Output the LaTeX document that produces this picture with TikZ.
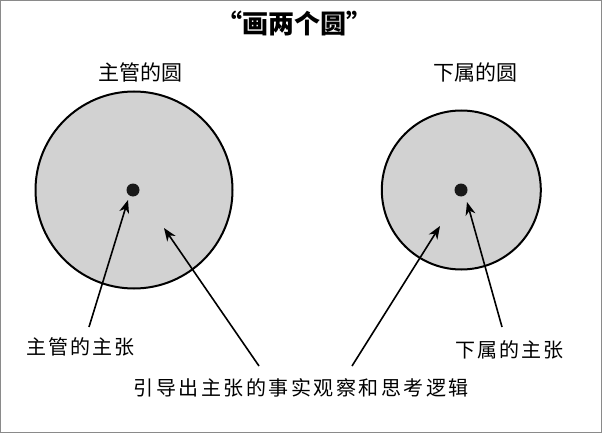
\documentclass[tikz,border=0pt]{standalone}
\usepackage{fontspec}
\newfontfamily\cjk{Noto Sans CJK SC}
\usetikzlibrary{arrows.meta}
\tikzset{
  bigcircle/.style={draw=black, line width=2pt, fill=circgray},
  dotnode/.style={circle, fill=black!90, inner sep=0pt, minimum size=13pt},
  arr/.style={line width=1.6pt, -{Stealth[length=13pt,width=10pt,inset=4pt]}},
  lbl/.style={font=\cjk\fontsize{20}{24}\selectfont, inner sep=0pt},
  sub/.style={font=\cjk\fontsize{21}{25}\selectfont, inner sep=0pt},
  ttl/.style={font=\cjk\bfseries\fontsize{26}{30}\selectfont, inner sep=0pt},
}
\definecolor{circgray}{HTML}{D2D2D2}
\definecolor{framegray}{HTML}{8A8A8A}
\begin{document}
\begin{tikzpicture}[x=1pt,y=-1pt]
\useasboundingbox (0,0) rectangle (602,433);
\draw[framegray, line width=1.2pt] (0.6,0.6) rectangle (601.4,432.4);
% title
\node[ttl] (title) at (294,23) {“画两个圆”};
\node[sub] (subL) at (140,72) {主管的圆};
\node[sub] (subR) at (475,72) {下属的圆};
% circles
\draw[bigcircle] (134,190) circle (98.5);
\draw[bigcircle] (461.3,190) circle (79.5);
\node[dotnode] (dotL) at (133,190) {};
\node[dotnode] (dotR) at (461,190) {};
% labels
\node[lbl] (labL) at (80,347) {主\hspace{2pt}管\hspace{2pt}的\hspace{2pt}主\hspace{2pt}张};
\node[lbl] (labR) at (509,350) {下\hspace{2pt}属\hspace{2pt}的\hspace{2pt}主\hspace{2pt}张};
\node[lbl] (labB) at (301,388) {引\hspace{2.5pt}导\hspace{2.5pt}出\hspace{2.5pt}主\hspace{2.5pt}张\hspace{2.5pt}的\hspace{2.5pt}事\hspace{2.5pt}实\hspace{2.5pt}观\hspace{2.5pt}察\hspace{2.5pt}和\hspace{2.5pt}思\hspace{2.5pt}考\hspace{2.5pt}逻\hspace{2.5pt}辑};
% arrow ends
\coordinate (t1) at (89,327);
\coordinate (h1) at (128,200);
\coordinate (t2) at (259,366);
\coordinate (h2) at (164,228);
\coordinate (t3) at (352,366);
\coordinate (h3) at (440,226);
\coordinate (t4) at (502,327);
\coordinate (h4) at (467,202);
\draw[arr] (t1) -- (h1);
\draw[arr] (t2) -- (h2);
\draw[arr] (t3) -- (h3);
\draw[arr] (t4) -- (h4);
\end{tikzpicture}
\end{document}
